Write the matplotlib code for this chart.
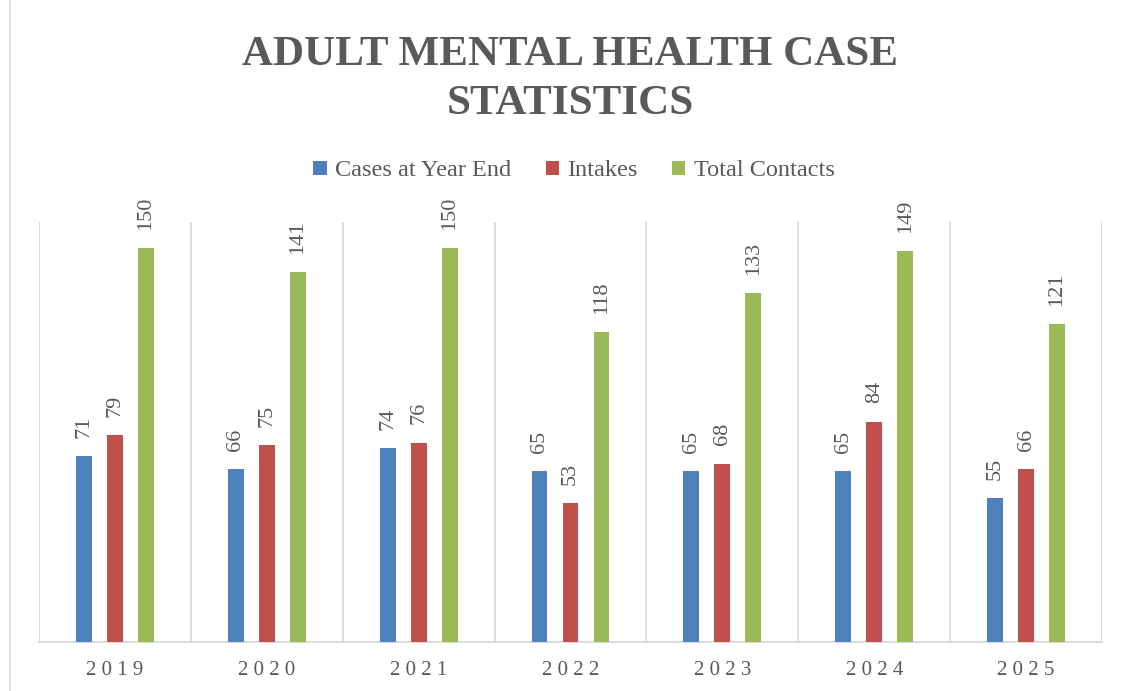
import matplotlib
matplotlib.use("Agg")
import matplotlib.pyplot as plt
import numpy as np
from matplotlib.patches import Patch
from matplotlib.lines import Line2D

years = ["2019", "2020", "2021", "2022", "2023", "2024", "2025"]
cases_year_end = [71, 66, 74, 65, 65, 65, 55]
intakes = [79, 75, 76, 53, 68, 84, 66]
total_contacts = [150, 141, 150, 118, 133, 149, 121]

series_names = ["Cases at Year End", "Intakes", "Total Contacts"]
colors = ["#4F81BD", "#C0504D", "#9BBB59"]
text_color = "#595959"
grid_color = "#D9D9D9"

plt.rcParams['font.family'] = ['Liberation Serif', 'DejaVu Serif']

fig = plt.figure(figsize=(11.31, 6.91), dpi=100)
ax = fig.add_axes([39/1131, 1-642/691, (1102-39)/1131, (642-222)/691])

x = np.arange(len(years))
width = 0.105
pitch = 0.204
data = [cases_year_end, intakes, total_contacts]
for i, (vals, c) in enumerate(zip(data, colors)):
    pos = x + (i - 1) * pitch
    ax.bar(pos, vals, width=width, color=c, zorder=3)
    for p, v in zip(pos, vals):
        ax.annotate(str(v), (p, v), xytext=(0, 13), textcoords="offset points",
                    rotation=90, ha="center", va="bottom", fontsize=16,
                    color=text_color)

ax.set_xlim(-0.5, len(years) - 0.5)
ax.set_ylim(0, 160)
for b in np.arange(-0.5, len(years), 1.0):
    ax.axvline(b, color=grid_color, lw=1.3, zorder=1)
for s in ["top", "left", "right"]:
    ax.spines[s].set_visible(False)
ax.spines["bottom"].set_color(grid_color)
ax.spines["bottom"].set_linewidth(1.3)
ax.set_yticks([])
ax.set_xticks(x)
ax.set_xticklabels([" ".join(y) for y in years], fontsize=15, color=text_color)
ax.tick_params(axis="x", length=0, pad=14)
ax.patch.set_alpha(0)

fig.text(570/1131, 1-55/691, "ADULT MENTAL HEALTH CASE", ha="center", va="center",
         fontsize=31, fontweight="bold", color=text_color)
fig.text(570/1131, 1-104/691, "STATISTICS", ha="center", va="center",
         fontsize=31, fontweight="bold", color=text_color)

handles = [Patch(facecolor=c, edgecolor="none") for c in colors]
fig.legend(handles, series_names, loc="center", bbox_to_anchor=(574/1131, 1-171/691),
           ncol=3, frameon=False, fontsize=17.5, labelcolor=text_color,
           handlelength=0.55, handleheight=0.55, handletextpad=0.35, columnspacing=1.4)

fig.add_artist(Line2D([10/1131, 10/1131], [0, 1], color=grid_color, lw=1.3))

fig.savefig("out.png", dpi=100)
